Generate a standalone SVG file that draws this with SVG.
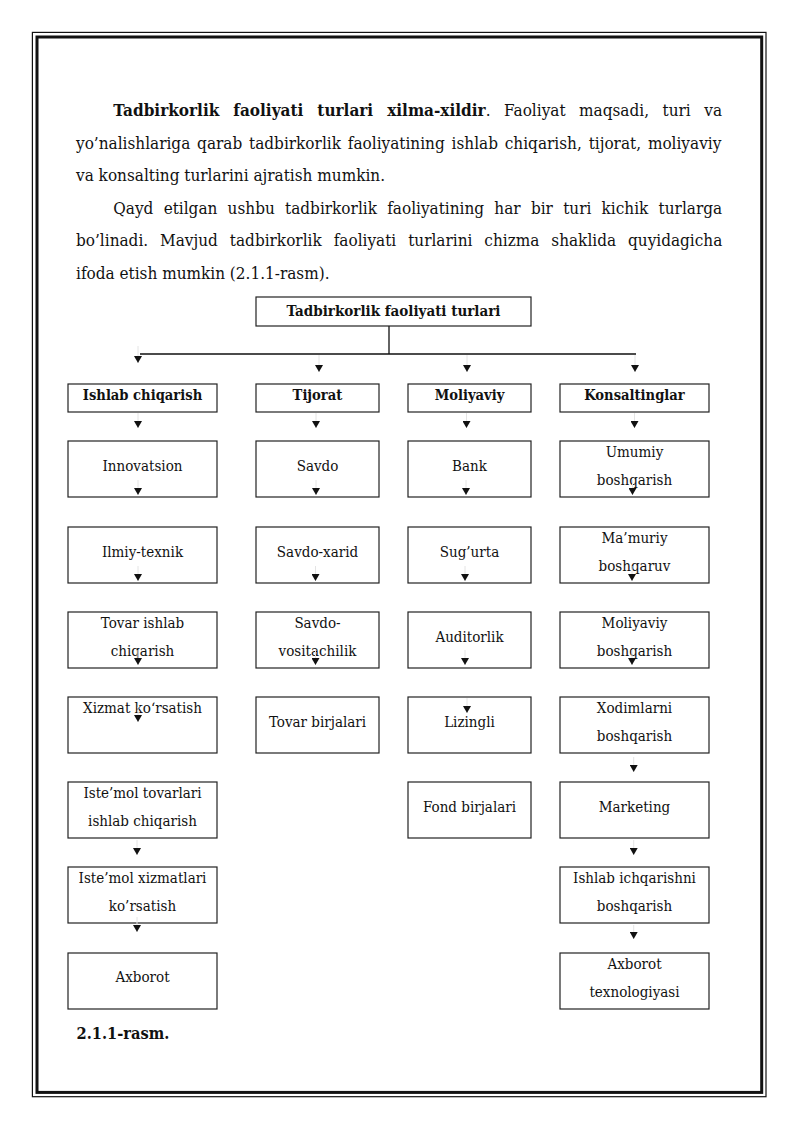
<svg xmlns="http://www.w3.org/2000/svg" width="800" height="1131" viewBox="0 0 800 1131">
<defs>
<style>
.t{font-family:"DejaVu Serif Condensed","DejaVu Serif",serif;font-stretch:condensed;fill:#111}
.body{font-size:17px}
.b{font-weight:bold}
.bx{font-size:15px;text-anchor:middle}
.cat{font-size:14.6px}
.box{fill:#fff;stroke:#222;stroke-width:1.2}
.stem{stroke:#e4e4e4;stroke-width:1;fill:none}
.line{stroke:#111;stroke-width:1.3;fill:none}
</style>
<marker id="ah" markerUnits="userSpaceOnUse" markerWidth="8" markerHeight="8" refX="7" refY="4" orient="auto" viewBox="0 0 8 8"><path d="M0,0 L7,4 L0,8 Z" fill="#111"/></marker>
</defs>
<rect width="800" height="1131" fill="#fff"/>
<g id="page-border" fill="none" stroke="#111">
<rect x="32.4" y="32.4" width="733.6" height="1064.3" stroke-width="1.2"/>
<rect x="37" y="37" width="724.7" height="1055.4" stroke-width="3"/>
</g>
<g id="paragraphs" class="t body">
<text x="113.3" y="116" word-spacing="8.7"><tspan class="b">Tadbirkorlik faoliyati turlari xilma-xildir</tspan>. Faoliyat maqsadi, turi va</text>
<text x="76" y="148.5" word-spacing="2.0">yo’nalishlariga qarab tadbirkorlik faoliyatining ishlab chiqarish, tijorat, moliyaviy</text>
<text x="76" y="181">va konsalting turlarini ajratish mumkin.</text>
<text x="113.3" y="213.5" word-spacing="5.4">Qayd etilgan ushbu tadbirkorlik faoliyatining har bir turi kichik turlarga</text>
<text x="76" y="246" word-spacing="7.1">bo’linadi. Mavjud tadbirkorlik faoliyati turlarini chizma shaklida quyidagicha</text>
<text x="76" y="278.5">ifoda etish mumkin (2.1.1-rasm).</text>
</g>
<g id="connectors">
<path class="line" d="M389,326 V354 M140,354 H636"/>
<g class="stem" marker-end="url(#ah)">
<line x1="138" y1="346" x2="138" y2="363"/>
<line x1="319" y1="355" x2="319" y2="372"/>
<line x1="467" y1="355" x2="467" y2="372"/>
<line x1="635" y1="355" x2="635" y2="372"/>
<line x1="138" y1="413" x2="138" y2="428"/>
<line x1="316" y1="413" x2="316" y2="428"/>
<line x1="466.5" y1="413" x2="466.5" y2="428"/>
<line x1="634.5" y1="413" x2="634.5" y2="428"/>
</g>
</g>
<g id="node-root"><rect class="box" x="256" y="297" width="275" height="29"/><text class="t bx b" x="393.5" y="315.5">Tadbirkorlik faoliyati turlari</text></g>
<g id="node-ishlab"><rect class="box" x="68" y="384" width="149" height="28"/><text class="t bx b cat" x="142.5" y="399.5">Ishlab chiqarish</text></g>
<g id="node-tijorat"><rect class="box" x="256" y="384" width="123" height="28"/><text class="t bx b cat" x="317.5" y="399.5">Tijorat</text></g>
<g id="node-moliyaviy"><rect class="box" x="408" y="384" width="123" height="28"/><text class="t bx b cat" x="469.5" y="399.5">Moliyaviy</text></g>
<g id="node-konsalting"><rect class="box" x="560" y="384" width="149" height="28"/><text class="t bx b cat" x="634.5" y="399.5">Konsaltinglar</text></g>

<g id="node-innovatsion"><rect class="box" x="68" y="441" width="149" height="56"/><text class="t bx" x="142.5" y="471">Innovatsion</text></g>
<g id="node-savdo"><rect class="box" x="256" y="441" width="123" height="56"/><text class="t bx" x="317.5" y="471">Savdo</text></g>
<g id="node-bank"><rect class="box" x="408" y="441" width="123" height="56"/><text class="t bx" x="469.5" y="471">Bank</text></g>
<g id="node-umumiy"><rect class="box" x="560" y="441" width="149" height="56"/><text class="t bx" x="634.5" y="457">Umumiy</text><text class="t bx" x="634.5" y="484.5">boshqarish</text></g>

<g id="node-ilmiy"><rect class="box" x="68" y="527" width="149" height="56"/><text class="t bx" x="142.5" y="557">Ilmiy-texnik</text></g>
<g id="node-savdo-xarid"><rect class="box" x="256" y="527" width="123" height="56"/><text class="t bx" x="317.5" y="557">Savdo-xarid</text></g>
<g id="node-sugurta"><rect class="box" x="408" y="527" width="123" height="56"/><text class="t bx" x="469.5" y="557">Sug’urta</text></g>
<g id="node-mamuriy"><rect class="box" x="560" y="527" width="149" height="56"/><text class="t bx" x="634.5" y="543">Ma’muriy</text><text class="t bx" x="634.5" y="570.5">boshqaruv</text></g>

<g id="node-tovar-ishlab"><rect class="box" x="68" y="612" width="149" height="56"/><text class="t bx" x="142.5" y="628">Tovar ishlab</text><text class="t bx" x="142.5" y="655.5">chiqarish</text></g>
<g id="node-vositachilik"><rect class="box" x="256" y="612" width="123" height="56"/><text class="t bx" x="317.5" y="628">Savdo-</text><text class="t bx" x="317.5" y="655.5">vositachilik</text></g>
<g id="node-auditorlik"><rect class="box" x="408" y="612" width="123" height="56"/><text class="t bx" x="469.5" y="642">Auditorlik</text></g>
<g id="node-moliyaviy-b"><rect class="box" x="560" y="612" width="149" height="56"/><text class="t bx" x="634.5" y="628">Moliyaviy</text><text class="t bx" x="634.5" y="655.5">boshqarish</text></g>

<g id="node-xizmat"><rect class="box" x="68" y="697" width="149" height="56"/><text class="t bx" x="142.5" y="713">Xizmat ko‘rsatish</text></g>
<g id="node-tovar-birja"><rect class="box" x="256" y="697" width="123" height="56"/><text class="t bx" x="317.5" y="727">Tovar birjalari</text></g>
<g id="node-lizing"><rect class="box" x="408" y="697" width="123" height="56"/><text class="t bx" x="469.5" y="727">Lizingli</text></g>
<g id="node-xodim"><rect class="box" x="560" y="697" width="149" height="56"/><text class="t bx" x="634.5" y="713">Xodimlarni</text><text class="t bx" x="634.5" y="740.5">boshqarish</text></g>

<g id="node-istemol-tovar"><rect class="box" x="68" y="782" width="149" height="56"/><text class="t bx" x="142.5" y="798">Iste’mol tovarlari</text><text class="t bx" x="142.5" y="825.5">ishlab chiqarish</text></g>
<g id="node-fond"><rect class="box" x="408" y="782" width="123" height="56"/><text class="t bx" x="469.5" y="812">Fond birjalari</text></g>
<g id="node-marketing"><rect class="box" x="560" y="782" width="149" height="56"/><text class="t bx" x="634.5" y="812">Marketing</text></g>

<g id="node-istemol-xizmat"><rect class="box" x="68" y="867" width="149" height="56"/><text class="t bx" x="142.5" y="883">Iste’mol xizmatlari</text><text class="t bx" x="142.5" y="910.5">ko’rsatish</text></g>
<g id="node-ishlab-boshq"><rect class="box" x="560" y="867" width="149" height="56"/><text class="t bx" x="634.5" y="883">Ishlab ichqarishni</text><text class="t bx" x="634.5" y="910.5">boshqarish</text></g>

<g id="node-axborot"><rect class="box" x="68" y="953" width="149" height="56"/><text class="t bx" x="142.5" y="982">Axborot</text></g>
<g id="node-axborot-tex"><rect class="box" x="560" y="953" width="149" height="56"/><text class="t bx" x="634.5" y="969">Axborot</text><text class="t bx" x="634.5" y="996.5">texnologiyasi</text></g>

<g id="connectors-inner" class="stem" marker-end="url(#ah)">
<line x1="138" y1="480" x2="138" y2="495"/>
<line x1="316" y1="480" x2="316" y2="495"/>
<line x1="466" y1="480" x2="466" y2="495"/>
<line x1="632.5" y1="480" x2="632.5" y2="495"/>
<line x1="138" y1="566" x2="138" y2="581"/>
<line x1="315.5" y1="566" x2="315.5" y2="581"/>
<line x1="465" y1="566" x2="465" y2="581"/>
<line x1="632" y1="566" x2="632" y2="581"/>
<line x1="138" y1="650" x2="138" y2="665"/>
<line x1="315.5" y1="650" x2="315.5" y2="665"/>
<line x1="465" y1="650" x2="465" y2="665"/>
<line x1="632" y1="650" x2="632" y2="665"/>
<line x1="138" y1="707" x2="138" y2="722"/>
<line x1="467" y1="698" x2="467" y2="713"/>
<line x1="633.7" y1="757" x2="633.7" y2="772"/>
<line x1="137" y1="840" x2="137" y2="855"/>
<line x1="633.7" y1="840" x2="633.7" y2="855"/>
<line x1="137" y1="917" x2="137" y2="932"/>
<line x1="633.7" y1="925" x2="633.7" y2="939"/>
</g>
<text id="caption" class="t b" x="76.5" y="1039" font-size="16.3">2.1.1-rasm.</text>
</svg>
